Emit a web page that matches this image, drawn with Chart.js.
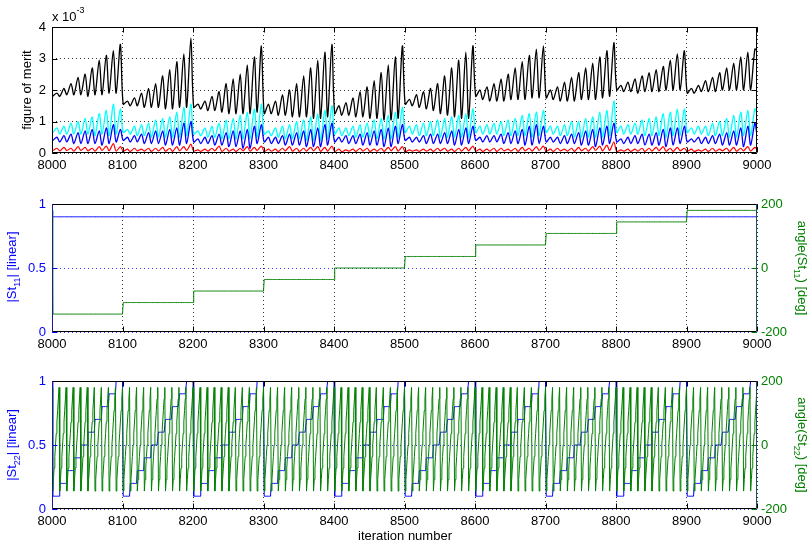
<!DOCTYPE html>
<html>
<head>
<meta charset="utf-8">
<script src="https://cdn.jsdelivr.net/npm/chart.js@4.4.1/dist/chart.umd.min.js"></script>
<style>
html, body { margin: 0; padding: 0; background: #fff; }
#wrap { position: relative; width: 810px; height: 543px; }
canvas { position: absolute; left: 0; }
</style>
</head>
<body>
<div id="wrap">
<canvas id="c1" width="810" height="180" style="top:0px"></canvas>
<canvas id="c2" width="810" height="180" style="top:180px"></canvas>
<canvas id="c3" width="810" height="183" style="top:360px"></canvas>
</div>
<script>
var iterStart = 8000;
var iterEnd = 9000;
var xTicks = [8000, 8100, 8200, 8300, 8400, 8500, 8600, 8700, 8800, 8900, 9000];

// figure of merit (x 1e-3), one trough (~iter 1) and one peak (~iter 7) per 10-iteration step
var blackStart = 1.75, blackEnd = 3.25;
var blackTroughs = [
	1.80,1.80,1.85,1.85,1.85,1.80,1.85,1.85,1.90,1.90,
	1.55,1.50,1.50,1.45,1.45,1.45,1.40,1.40,1.45,1.45,
	1.45,1.40,1.35,1.35,1.30,1.25,1.25,1.25,1.25,1.30,
	1.25,1.25,1.20,1.20,1.15,1.15,1.15,1.10,1.10,1.15,
	1.25,1.20,1.20,1.15,1.15,1.10,1.10,1.05,1.05,1.10,
	1.55,1.50,1.45,1.40,1.35,1.25,1.20,1.15,1.10,1.10,
	1.80,1.70,1.65,1.65,1.65,1.70,1.70,1.70,1.75,1.75,
	1.75,1.70,1.65,1.65,1.65,1.70,1.70,1.70,1.75,1.80,
	2.00,1.95,1.95,1.90,1.95,1.95,1.95,2.00,2.00,2.00,
	1.90,1.90,1.95,1.95,1.95,2.00,2.00,2.00,2.00,2.00
];
var blackPeaks = [
	1.90,2.05,2.20,2.40,2.50,2.70,2.95,3.10,3.25,3.45,
	1.65,1.75,1.90,2.05,2.20,2.45,2.65,2.90,3.15,3.65,
	1.55,1.65,1.80,1.95,2.20,2.35,2.50,2.80,3.05,3.40,
	1.55,1.65,1.85,2.00,2.20,2.45,2.70,2.95,3.20,3.45,
	1.50,1.60,1.75,1.95,2.10,2.30,2.55,2.80,3.05,3.40,
	1.70,1.85,1.95,2.05,2.20,2.45,2.70,2.95,3.20,3.40,
	2.00,2.10,2.20,2.35,2.50,2.70,2.90,3.10,3.30,3.40,
	2.00,2.10,2.25,2.40,2.55,2.70,2.85,3.05,3.25,3.50,
	2.15,2.25,2.35,2.45,2.55,2.65,2.75,2.95,3.15,3.25,
	2.05,2.15,2.30,2.40,2.55,2.70,2.85,3.05,3.20,3.30
];
var cyanStart = 0.70, cyanEnd = 1.25;
var cyanTroughs = [
	0.65,0.60,0.60,0.60,0.60,0.60,0.55,0.60,0.55,0.60,
	0.65,0.60,0.55,0.55,0.50,0.50,0.50,0.50,0.50,0.55,
	0.60,0.55,0.50,0.50,0.45,0.45,0.45,0.45,0.45,0.50,
	0.60,0.55,0.50,0.45,0.45,0.45,0.40,0.40,0.40,0.45,
	0.60,0.55,0.55,0.50,0.50,0.50,0.45,0.45,0.45,0.50,
	0.65,0.60,0.55,0.55,0.55,0.50,0.50,0.50,0.50,0.50,
	0.65,0.60,0.60,0.60,0.55,0.55,0.55,0.55,0.50,0.55,
	0.65,0.60,0.55,0.55,0.50,0.50,0.50,0.50,0.50,0.55,
	0.65,0.60,0.60,0.60,0.55,0.55,0.55,0.50,0.55,0.55,
	0.65,0.60,0.60,0.55,0.55,0.55,0.50,0.50,0.55,0.55
];
var cyanPeaks = [
	0.80,0.85,0.95,1.00,1.10,1.15,1.25,1.35,1.55,1.40,
	0.75,0.85,0.90,0.95,1.05,1.10,1.15,1.30,1.45,1.55,
	0.70,0.80,0.85,0.95,1.05,1.10,1.20,1.30,1.40,1.55,
	0.70,0.80,0.85,0.90,1.00,1.05,1.15,1.25,1.35,1.50,
	0.80,0.80,0.85,0.90,0.95,1.05,1.10,1.20,1.30,1.45,
	0.85,0.90,0.95,1.00,1.05,1.10,1.15,1.20,1.25,1.40,
	0.85,0.90,0.95,1.00,1.05,1.10,1.20,1.25,1.30,1.35,
	0.85,0.85,0.90,1.00,1.00,1.10,1.15,1.30,1.35,1.65,
	0.85,0.90,0.95,1.05,1.10,1.15,1.25,1.30,1.40,1.40,
	0.80,0.85,0.85,0.95,1.00,1.10,1.20,1.30,1.35,1.40
];
var blueStart = 0.45, blueEnd = 0.55;
var blueTroughs = [
	0.40,0.35,0.35,0.30,0.30,0.30,0.30,0.25,0.30,0.35,
	0.40,0.35,0.35,0.30,0.30,0.30,0.25,0.25,0.25,0.30,
	0.35,0.30,0.30,0.25,0.25,0.20,0.20,0.15,0.15,0.30,
	0.35,0.30,0.30,0.25,0.25,0.25,0.20,0.20,0.20,0.25,
	0.35,0.35,0.30,0.30,0.25,0.25,0.25,0.20,0.20,0.30,
	0.40,0.35,0.35,0.30,0.30,0.30,0.30,0.25,0.25,0.30,
	0.40,0.35,0.35,0.35,0.30,0.30,0.30,0.25,0.25,0.30,
	0.35,0.35,0.30,0.30,0.30,0.25,0.25,0.20,0.25,0.30,
	0.35,0.30,0.30,0.30,0.25,0.25,0.25,0.20,0.25,0.30,
	0.35,0.35,0.30,0.30,0.30,0.25,0.25,0.25,0.20,0.25
];
var bluePeaks = [
	0.50,0.55,0.60,0.65,0.70,0.75,0.70,0.80,0.90,0.75,
	0.50,0.55,0.60,0.65,0.70,0.70,0.75,0.80,0.95,1.00,
	0.45,0.50,0.55,0.60,0.65,0.70,0.70,0.75,0.85,0.90,
	0.50,0.50,0.55,0.60,0.65,0.70,0.75,0.80,0.90,0.95,
	0.50,0.55,0.55,0.60,0.65,0.70,0.75,0.80,0.85,0.90,
	0.50,0.50,0.55,0.60,0.60,0.65,0.70,0.75,0.80,0.85,
	0.50,0.55,0.55,0.60,0.65,0.70,0.75,0.85,0.90,0.85,
	0.50,0.50,0.55,0.60,0.65,0.70,0.75,0.80,0.85,0.95,
	0.45,0.50,0.55,0.60,0.60,0.65,0.75,0.80,0.80,0.85,
	0.45,0.50,0.50,0.55,0.60,0.65,0.70,0.80,0.85,0.95
];
var redStart = 0.12, redEnd = 0.10;
var redTroughs = [
	0.08,0.07,0.08,0.06,0.08,0.07,0.06,0.08,0.07,0.06,
	0.06,0.05,0.07,0.06,0.05,0.07,0.06,0.05,0.07,0.08,
	0.06,0.05,0.06,0.07,0.05,0.06,0.05,0.07,0.06,0.08,
	0.05,0.06,0.05,0.07,0.06,0.05,0.06,0.07,0.05,0.06,
	0.05,0.04,0.06,0.05,0.06,0.05,0.06,0.05,0.07,0.06,
	0.05,0.06,0.05,0.06,0.05,0.07,0.06,0.05,0.06,0.07,
	0.06,0.05,0.06,0.05,0.07,0.06,0.05,0.07,0.06,0.08,
	0.06,0.05,0.07,0.06,0.05,0.07,0.06,0.08,0.07,0.08,
	0.05,0.06,0.05,0.06,0.05,0.06,0.07,0.06,0.05,0.07,
	0.06,0.05,0.06,0.05,0.06,0.07,0.05,0.06,0.07,0.06
];
var redPeaks = [
	0.15,0.18,0.15,0.20,0.18,0.15,0.20,0.22,0.30,0.20,
	0.12,0.15,0.12,0.15,0.15,0.18,0.15,0.20,0.20,0.28,
	0.10,0.12,0.15,0.22,0.15,0.12,0.15,0.20,0.18,0.22,
	0.12,0.12,0.15,0.20,0.15,0.15,0.18,0.20,0.18,0.22,
	0.12,0.10,0.12,0.15,0.15,0.12,0.15,0.18,0.20,0.20,
	0.10,0.10,0.12,0.12,0.15,0.15,0.12,0.15,0.18,0.22,
	0.12,0.12,0.15,0.15,0.12,0.15,0.18,0.15,0.20,0.22,
	0.12,0.15,0.12,0.15,0.18,0.15,0.20,0.22,0.25,0.35,
	0.10,0.12,0.12,0.15,0.15,0.18,0.20,0.15,0.18,0.15,
	0.12,0.10,0.12,0.15,0.12,0.15,0.18,0.15,0.20,0.18
];

// St11: one setting per 100-iteration block
var st11Mag = [0.9, 0.9, 0.9, 0.9, 0.9, 0.9, 0.9, 0.9, 0.9, 0.9];
var st11Phase = [-144, -108, -72, -36, 0, 36, 72, 108, 144, 180];
// St22: magnitude per 10-iteration step, phase per iteration inside a step
var st22Mag = [0.1, 0.2, 0.3, 0.4, 0.5, 0.6, 0.7, 0.8, 0.9, 1.0];
var st22Phase = [-144, -108, -72, -36, 0, 36, 72, 108, 144, 180];

var FONT = "'Liberation Sans', Arial, Helvetica, sans-serif";
var BLUE = "#0000ff", GREEN = "#008000";

function fomSeries(first, troughs, peaks, last) {
	let pts = [{x: iterStart, y: first}];
	for (let k = 0; k < troughs.length; k++) {
		pts.push({x: iterStart + 10 * k + 1, y: troughs[k]});
		pts.push({x: iterStart + 10 * k + 7, y: peaks[k]});
	}
	pts.push({x: iterEnd, y: last});
	return pts;
}

// value at each iteration; iteration 8000 still holds the last setting of the previous sweep
function sweepSeries(pick) {
	let pts = [];
	for (let it = iterStart; it <= iterEnd; it++) {
		let m = (it - iterStart - 1 + 1000) % 1000;
		pts.push({x: it, y: pick(Math.floor(m / 100), Math.floor((m % 100) / 10), m % 10)});
	}
	return pts;
}

function drawRich(ctx, parts, x, y, rot, color, align) {
	ctx.save();
	ctx.translate(x, y);
	ctx.rotate(rot);
	ctx.fillStyle = color;
	ctx.textBaseline = "alphabetic";
	ctx.textAlign = "left";
	let fontOf = k => (k ? "9px " : "13px ") + FONT;
	let w = 0;
	for (let p of parts) { ctx.font = fontOf(p[1]); w += ctx.measureText(p[0]).width; }
	let cx = align === "left" ? 0 : -w / 2;
	for (let p of parts) {
		ctx.font = fontOf(p[1]);
		let dy = p[1] === 1 ? 4 : (p[1] === 2 ? -8 : 0);
		ctx.fillText(p[0], cx, dy);
		cx += ctx.measureText(p[0]).width;
	}
	ctx.restore();
}

var deco = {
	id: "deco",
	afterDraw(chart, args, o) {
		let ctx = chart.ctx, a = chart.chartArea;
		let L = Math.round(a.left) + 0.5, R = Math.round(a.right) - 0.5;
		let T = Math.round(a.top) + 0.5, B = Math.round(a.bottom) - 0.5;
		let line = (x1, y1, x2, y2, c) => {
			ctx.strokeStyle = c;
			ctx.beginPath(); ctx.moveTo(x1, y1); ctx.lineTo(x2, y2); ctx.stroke();
		};
		ctx.save();
		ctx.lineWidth = 1;
		let xs = chart.scales.x;
		for (let t of xs.ticks) {
			let p = Math.round(xs.getPixelForValue(t.value)) + 0.5;
			line(p, B, p, B - 5, "#000");
			line(p, T, p, T + 5, "#000");
		}
		for (let yt of o.yTicks) {
			let s = chart.scales[yt.id];
			for (let t of s.ticks) {
				let p = Math.round(s.getPixelForValue(t.value)) + 0.5;
				for (let side of yt.sides) {
					if (side === "l") line(L, p, L + 5, p, yt.color);
					else line(R, p, R - 5, p, yt.color);
				}
			}
		}
		line(L, T, R, T, "#000");
		line(L, B, R, B, "#000");
		line(L, T, L, B, o.left);
		line(R, T, R, B, o.right);
		for (let t of o.texts) drawRich(ctx, t.parts, t.x, t.y, t.rot || 0, t.color, t.align);
		ctx.restore();
	}
};

function xScale(h) {
	return {
		type: "linear", min: iterStart, max: iterEnd,
		afterFit: s => { s.height = h; },
		afterBuildTicks: s => { s.ticks = xTicks.map(v => ({value: v})); },
		ticks: {color: "#000", padding: 5, maxRotation: 0, autoSkip: false, font: {size: 13}, callback: v => String(v)},
		grid: {color: "rgba(0,0,0,0.8)", drawTicks: false, lineWidth: 1},
		border: {display: false, dash: [1, 3]}
	};
}

function yScale(pos, min, max, step, color, gridColor, width) {
	return {
		type: "linear", position: pos, min: min, max: max,
		afterFit: s => { s.width = width; },
		ticks: {stepSize: step, color: color, padding: pos === "left" ? 6 : 4, font: {size: 13}, callback: v => String(v)},
		grid: {display: true, drawOnChartArea: !!gridColor, color: gridColor || "rgba(0,0,0,0)", drawTicks: false},
		border: {display: false, dash: [1, 3]}
	};
}

function lineSet(data, color, tension, axis, width) {
	return {data: data, borderColor: color, borderWidth: width || 1, pointRadius: 0, fill: false, tension: tension, yAxisID: axis || "y"};
}

function makeChart(id, datasets, scales, padTop, padRight, decoOpts) {
	return new Chart(document.getElementById(id), {
		type: "line",
		data: {datasets: datasets},
		options: {
			responsive: false, animation: false, events: [],
			layout: {padding: {top: padTop, right: padRight, left: 0, bottom: 0}},
			plugins: {legend: {display: false}, tooltip: {enabled: false}, deco: decoOpts},
			scales: scales
		},
		plugins: [deco]
	});
}

Chart.defaults.font.family = FONT;
Chart.defaults.font.size = 13;

makeChart("c1", [
	lineSet(fomSeries(redStart, redTroughs, redPeaks, redEnd), "#ff0000", 0.3, "y", 1.2),
	lineSet(fomSeries(blueStart, blueTroughs, bluePeaks, blueEnd), BLUE, 0.3, "y", 1.3),
	lineSet(fomSeries(cyanStart, cyanTroughs, cyanPeaks, cyanEnd), "#00ffff", 0.3, "y", 1.3),
	lineSet(fomSeries(blackStart, blackTroughs, blackPeaks, blackEnd), "#000000", 0.3, "y", 1.3)
], {
	x: xScale(27),
	y: yScale("left", 0, 4, 1, "#000", "rgba(0,0,0,0.8)", 52)
}, 27, 53, {
	left: "#000", right: "#000",
	yTicks: [{id: "y", color: "#000", sides: ["l", "r"]}],
	texts: [
		{parts: [["figure of merit", 0]], x: 31, y: 90, rot: -Math.PI / 2, color: "#000"},
		{parts: [["x 10", 0], ["-3", 2]], x: 52, y: 21, color: "#000", align: "left"}
	]
});

makeChart("c2", [
	lineSet(sweepSeries((b, s, i) => st11Phase[b]), GREEN, 0, "y2"),
	lineSet(sweepSeries((b, s, i) => st11Mag[b]), BLUE, 0, "y")
], {
	x: xScale(28),
	y: yScale("left", 0, 1, 0.5, BLUE, "rgba(0,0,255,0.8)", 52),
	y2: yScale("right", -200, 200, 200, GREEN, null, 53)
}, 24, 0, {
	left: "#1a1a9a", right: "#1f4f5f",
	yTicks: [{id: "y", color: BLUE, sides: ["l"]}, {id: "y2", color: GREEN, sides: ["r"]}],
	texts: [
		{parts: [["|St", 0], ["11", 1], ["| [linear]", 0]], x: 16, y: 87, rot: -Math.PI / 2, color: BLUE},
		{parts: [["angle(St", 0], ["11", 1], [") [deg]", 0]], x: 798, y: 88, rot: Math.PI / 2, color: GREEN}
	]
});

makeChart("c3", [
	lineSet(sweepSeries((b, s, i) => st22Phase[i]), GREEN, 0, "y2"),
	lineSet(sweepSeries((b, s, i) => st22Mag[s]), BLUE, 0, "y")
], {
	x: xScale(34),
	y: yScale("left", 0, 1, 0.5, BLUE, "rgba(0,0,255,0.8)", 52),
	y2: yScale("right", -200, 200, 200, GREEN, null, 53)
}, 21, 0, {
	left: "#1a1a9a", right: "#1f4f5f",
	yTicks: [{id: "y", color: BLUE, sides: ["l"]}, {id: "y2", color: GREEN, sides: ["r"]}],
	texts: [
		{parts: [["|St", 0], ["22", 1], ["| [linear]", 0]], x: 16, y: 85, rot: -Math.PI / 2, color: BLUE},
		{parts: [["angle(St", 0], ["22", 1], [") [deg]", 0]], x: 798, y: 85, rot: Math.PI / 2, color: GREEN},
		{parts: [["iteration number", 0]], x: 405, y: 180, color: "#000"}
	]
});
</script>
</body>
</html>
